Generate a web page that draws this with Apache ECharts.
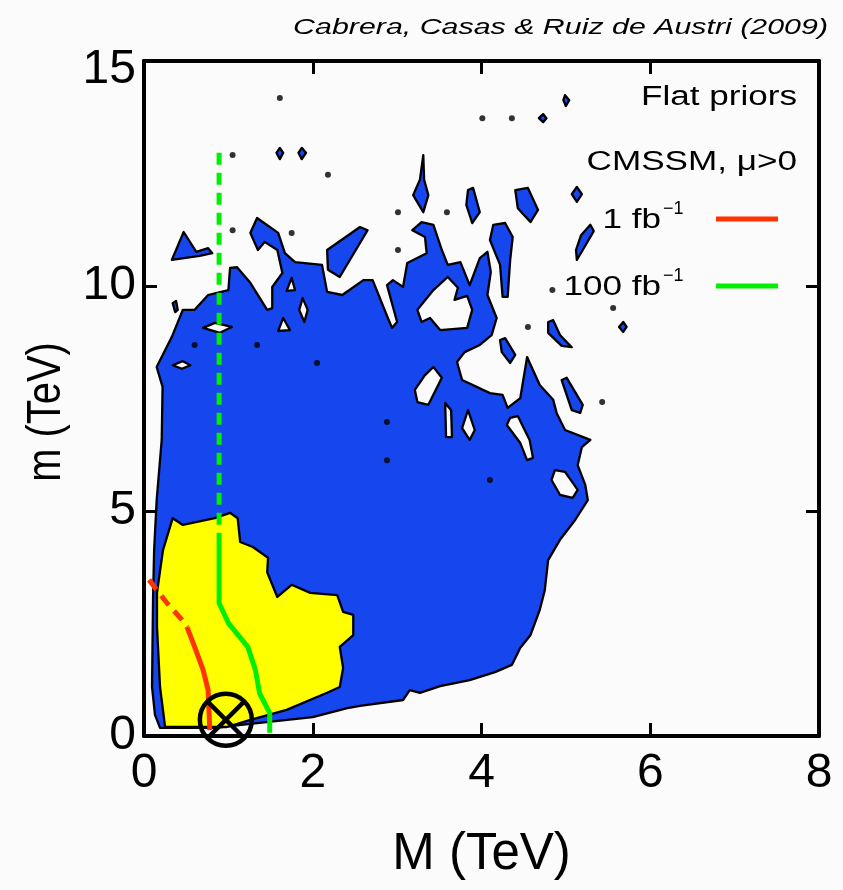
<!DOCTYPE html>
<html>
<head>
<meta charset="utf-8">
<script src="https://cdn.jsdelivr.net/npm/echarts@6/dist/echarts.min.js"></script>
<style>
  html, body { margin: 0; padding: 0; background: #fbfbfb; }
  #chart { width: 843px; height: 890px; }
</style>
</head>
<body>
<div id="chart"></div>
<script>
// axis ticks (TeV)
const xTicks = [0, 2, 4, 6, 8]
const yTicks = [0, 5, 10, 15]

// 95% region outline, [M, m] in TeV
const blueMain = [
  [0.15, 8.2], [0.33, 8.87], [0.46, 9.47], [0.60, 9.47], [0.76, 9.8], [1.0, 9.91], [1.02, 10.4], [1.10, 10.42],
  [1.26, 10.07], [1.46, 9.47], [1.52, 9.51], [1.52, 9.98], [1.64, 10.29], [1.58, 10.8], [1.43, 10.98], [1.35, 10.8],
  [1.26, 11.18], [1.34, 11.51], [1.59, 11.18], [1.67, 10.73], [1.79, 10.53], [2.11, 10.47], [2.17, 9.87], [2.35, 9.8],
  [2.60, 10.13], [2.71, 10.13], [2.89, 9.29], [2.94, 9.07], [3.0, 9.2], [2.88, 10.02], [2.95, 10.13], [3.07, 9.98],
  [3.12, 10.51], [3.35, 10.73], [3.33, 11.09], [3.18, 11.24], [3.29, 11.42], [3.43, 11.36], [3.53, 10.8], [3.60, 10.47],
  [3.75, 10.53], [3.86, 10.02], [3.98, 10.62], [4.07, 10.76], [4.11, 10.31], [4.07, 9.8], [4.18, 9.29], [4.12, 8.91],
  [3.98, 8.69], [3.80, 8.53], [3.71, 8.31], [3.77, 7.91], [4.10, 7.62], [4.25, 7.58], [4.31, 7.29], [4.46, 7.51],
  [4.54, 8.42], [4.69, 7.8], [4.85, 7.47], [4.89, 7.18], [4.99, 6.8], [5.29, 6.58], [5.19, 6.42], [5.14, 6.02],
  [5.23, 5.58], [5.26, 5.24], [5.11, 4.8], [4.93, 4.36], [4.79, 3.91], [4.75, 3.24], [4.69, 2.8], [4.58, 2.24],
  [4.46, 1.96], [4.36, 1.58], [4.16, 1.42], [3.86, 1.24], [3.51, 1.11], [3.27, 0.96], [3.15, 1.02], [3.07, 0.8],
  [2.56, 0.67], [2.41, 0.62], [2.0, 0.42], [1.26, 0.27], [0.84, 0.18], [0.19, 0.18], [0.13, 0.47], [0.095, 1.09],
  [0.107, 3.02], [0.12, 4.13], [0.15, 5.24], [0.21, 6.58], [0.22, 7.76]
]

// empty pockets inside the 95% region
const blueHoles = [
  [[0.70, 9.07], [0.84, 9.18], [1.04, 9.09], [0.90, 8.96]],
  [[0.34, 8.24], [0.46, 8.33], [0.55, 8.24], [0.45, 8.16]],
  [[1.65, 9.29], [1.73, 9.02], [1.59, 9.0]],
  [[1.75, 10.18], [1.79, 9.91], [1.69, 9.89]],
  [[1.88, 9.73], [1.94, 9.47], [1.90, 9.2], [1.84, 9.47]],
  [[3.43, 8.2], [3.53, 7.96], [3.37, 7.36], [3.24, 7.42], [3.21, 7.69], [3.33, 8.02]],
  [[3.57, 7.4], [3.64, 7.24], [3.65, 6.64], [3.58, 6.64]],
  [[3.84, 7.24], [3.92, 6.8], [3.86, 6.58], [3.77, 6.84]],
  [[3.24, 9.47], [3.43, 9.91], [3.60, 10.2], [3.72, 9.96], [3.68, 9.69], [3.83, 9.78], [3.89, 9.47], [3.83, 9.07],
   [3.51, 9.02], [3.39, 9.29], [3.29, 9.2]],
  [[4.34, 7.07], [4.43, 7.11], [4.57, 6.58], [4.61, 6.18], [4.54, 6.13], [4.46, 6.51], [4.30, 6.91]],
  [[4.87, 5.91], [4.99, 5.87], [5.14, 5.47], [5.08, 5.29], [4.93, 5.36], [4.83, 5.69]]
]

// detached 95% islands
const blueIslands = [
  [[0.33, 10.58], [0.47, 11.2], [0.62, 10.76], [0.76, 10.84], [0.81, 10.73], [0.66, 10.67]],
  [[0.34, 9.62], [0.38, 9.67], [0.40, 9.47], [0.37, 9.42]],
  [[2.17, 10.8], [2.56, 11.31], [2.65, 11.24], [2.32, 10.2], [2.18, 10.36]],
  [[3.31, 12.91], [3.32, 12.36], [3.37, 12.02], [3.31, 11.64], [3.19, 12.02], [3.27, 12.36]],
  [[3.84, 12.13], [3.90, 12.18], [3.98, 11.64], [3.89, 11.4], [3.82, 11.8]],
  [[4.40, 12.13], [4.55, 12.18], [4.67, 11.69], [4.58, 11.42], [4.43, 11.73]],
  [[4.14, 11.36], [4.28, 11.4], [4.37, 11.09], [4.34, 10.58], [4.31, 9.76], [4.25, 9.76], [4.22, 10.47], [4.10, 11.02]],
  [[4.22, 8.8], [4.28, 8.84], [4.40, 8.47], [4.34, 8.29], [4.24, 8.53]],
  [[4.79, 9.2], [4.85, 9.24], [4.93, 8.91], [5.07, 8.64], [4.95, 8.67], [4.79, 8.96]],
  [[4.95, 7.91], [5.01, 7.96], [5.20, 7.36], [5.17, 7.18], [5.07, 7.24]],
  [[5.13, 12.2], [5.19, 12.04], [5.13, 11.87], [5.07, 12.04]],
  [[5.29, 11.36], [5.33, 11.22], [5.20, 10.8], [5.13, 10.58], [5.12, 10.8], [5.18, 11.13]],
  [[4.99, 14.24], [5.04, 14.13], [5.0, 14.0], [4.97, 14.13]],
  [[4.73, 13.82], [4.77, 13.73], [4.73, 13.64], [4.68, 13.73]],
  [[1.61, 13.07], [1.65, 12.96], [1.61, 12.82], [1.57, 12.96]],
  [[1.87, 13.07], [1.92, 12.96], [1.87, 12.82], [1.83, 12.96]],
  [[5.68, 9.2], [5.72, 9.09], [5.68, 8.98], [5.63, 9.09]]
]

// tiny specks
const specks = [
  [0.60, 8.69], [1.34, 8.69], [2.05, 8.29], [2.88, 6.98], [2.88, 6.13], [1.05, 11.24], [1.75, 11.18], [2.18, 12.47],
  [1.05, 12.91], [3.01, 11.64], [3.59, 11.64], [3.01, 10.8], [4.55, 9.09], [4.84, 9.91], [5.56, 9.51], [5.43, 7.42],
  [1.61, 14.18], [4.01, 13.73], [4.36, 13.73], [4.10, 5.69]
]

// 68% region outline
const yellowRegion = [
  [0.34, 4.84], [0.46, 4.69], [0.84, 4.84], [1.02, 4.96], [1.11, 4.84], [1.14, 4.31], [1.29, 4.2], [1.47, 3.96],
  [1.46, 3.64], [1.58, 3.09], [1.75, 3.36], [1.97, 3.18], [2.29, 3.13], [2.36, 2.76], [2.48, 2.69], [2.48, 2.24],
  [2.32, 1.98], [2.36, 1.51], [2.32, 1.09], [2.17, 0.96], [1.69, 0.58], [1.26, 0.36], [0.98, 0.2], [0.25, 0.2],
  [0.19, 1.09], [0.154, 2.42], [0.154, 3.18], [0.225, 4.13]
]

// discovery reach lines
const reach1Dashed = [[0.06, 3.47], [0.27, 2.96], [0.45, 2.58], [0.51, 2.42]]
const reach1Solid = [[0.51, 2.42], [0.60, 1.98], [0.70, 1.47], [0.76, 1.02], [0.78, 0.13]]
const reach100Dashed = [[0.89, 12.96], [0.89, 4.29]]
const reach100Solid = [[0.89, 4.29], [0.89, 2.95], [1.0, 2.51], [1.23, 1.98], [1.32, 1.47], [1.37, 0.95], [1.49, 0.51], [1.49, 0.07]]

const bestFit = [[0.97, 0.36]]

const FONT = 'Liberation Sans'
const BLUE = '#1646ee'
const YELLOW = '#ffff00'
const RED = '#ff3300'
const GREEN = '#00ee00'
const BG = '#fbfbfb'

const chart = echarts.init(document.getElementById('chart'))

function polygons(list, fill) {
  return {
    type: 'custom',
    data: list.map((p, i) => [i]),
    renderItem: (params, api) => {
      const pts = list[params.dataIndex].map(p => api.coord(p))
      return {
        type: 'polygon',
        shape: { points: pts },
        style: { fill: fill, stroke: '#000', lineWidth: 2.3, lineJoin: 'round' }
      }
    }
  }
}

function reachLine(data, color, dashed) {
  return {
    type: 'line',
    data: data,
    showSymbol: false,
    silent: true,
    lineStyle: { color: color, width: 5, type: dashed ? [12, 8] : 'solid', cap: 'butt' }
  }
}

// stretched legend/caption text, anchored at its right end
function label(text, x, y, size, sx, italic) {
  return {
    type: 'text', x: x, y: y, scaleX: sx,
    style: {
      text: text, fill: '#000', align: 'right', verticalAlign: 'middle',
      font: (italic ? 'italic ' : '') + size + 'px "Liberation Sans"'
    }
  }
}

const frameAxis = {
  axisLine: { show: true, onZero: false, lineStyle: { color: '#000', width: 4 } },
  axisTick: { show: true, inside: true, length: 13, lineStyle: { color: '#000', width: 3 } },
  splitLine: { show: false }
}

const option = {
  backgroundColor: BG,
  animation: false,
  grid: { left: 144, top: 61, width: 675, height: 675 },
  xAxis: [
    {
      type: 'value', min: xTicks[0], max: xTicks[xTicks.length - 1], interval: 2, position: 'bottom',
      ...frameAxis,
      axisLabel: { fontSize: 48, color: '#000', margin: 14, fontFamily: FONT },
      name: 'M (TeV)', nameLocation: 'middle', nameGap: 93,
      nameTextStyle: { fontSize: 51, color: '#000', fontFamily: FONT }
    },
    { type: 'value', min: 0, max: 8, interval: 2, position: 'top', ...frameAxis, axisLabel: { show: false } }
  ],
  yAxis: [
    {
      type: 'value', min: yTicks[0], max: yTicks[yTicks.length - 1], interval: 5, position: 'left',
      ...frameAxis,
      axisLabel: {
        fontSize: 48, color: '#000', margin: 8, fontFamily: FONT,
        formatter: v => (v === 15 ? '{top|' + v + '}' : String(v)),
        rich: { top: { fontSize: 48, fontFamily: FONT, color: '#000', padding: [18, 0, 0, 0] } }
      }
    },
    { type: 'value', min: 0, max: 15, interval: 5, position: 'right', ...frameAxis, axisLabel: { show: false } }
  ],
  graphic: [
    label('Cabrera, Casas & Ruiz de Austri (2009)', 828, 28, 22, 1.38, true),
    label('Flat priors', 797, 98, 27, 1.3),
    label('CMSSM, μ>0', 797, 163, 27, 1.3),
    label('1 fb', 661, 221, 27, 1.3),
    { type: 'text', x: 663, y: 209, style: { text: '−1', fill: '#000', verticalAlign: 'middle', font: '18px "Liberation Sans"' } },
    label('100 fb', 661, 288, 27, 1.3),
    { type: 'text', x: 663, y: 276, style: { text: '−1', fill: '#000', verticalAlign: 'middle', font: '18px "Liberation Sans"' } },
    { type: 'line', shape: { x1: 716, y1: 219, x2: 778, y2: 219 }, style: { stroke: RED, lineWidth: 5 } },
    { type: 'line', shape: { x1: 716, y1: 286, x2: 778, y2: 286 }, style: { stroke: GREEN, lineWidth: 5 } },
    {
      type: 'text', x: 47, y: 412, rotation: Math.PI / 2, scaleX: 0.83,
      style: { text: 'm (TeV)', fill: '#000', align: 'center', verticalAlign: 'middle', font: '48px "Liberation Sans"' }
    }
  ],
  series: [
    polygons([blueMain], BLUE),
    polygons(blueHoles, BG),
    polygons(blueIslands, BLUE),
    polygons([yellowRegion], YELLOW),
    {
      type: 'scatter', data: specks, symbolSize: 6, silent: true,
      itemStyle: { color: '#000' }
    },
    reachLine(reach1Dashed, RED, true),
    reachLine(reach1Solid, RED, false),
    reachLine(reach100Dashed, GREEN, true),
    reachLine(reach100Solid, GREEN, false),
    {
      type: 'custom',
      data: bestFit,
      clip: false,
      z: 10,
      renderItem: (params, api) => {
        const c = api.coord([api.value(0), api.value(1)])
        const r = 26
        const d = r * 0.72
        const st = { stroke: '#000', lineWidth: 4.5, fill: 'none' }
        return {
          type: 'group',
          children: [
            { type: 'circle', shape: { cx: c[0], cy: c[1], r: r }, style: st },
            { type: 'line', shape: { x1: c[0] - d, y1: c[1] - d, x2: c[0] + d, y2: c[1] + d }, style: st },
            { type: 'line', shape: { x1: c[0] - d, y1: c[1] + d, x2: c[0] + d, y2: c[1] - d }, style: st }
          ]
        }
      }
    }
  ]
}

chart.setOption(option)
</script>
</body>
</html>
